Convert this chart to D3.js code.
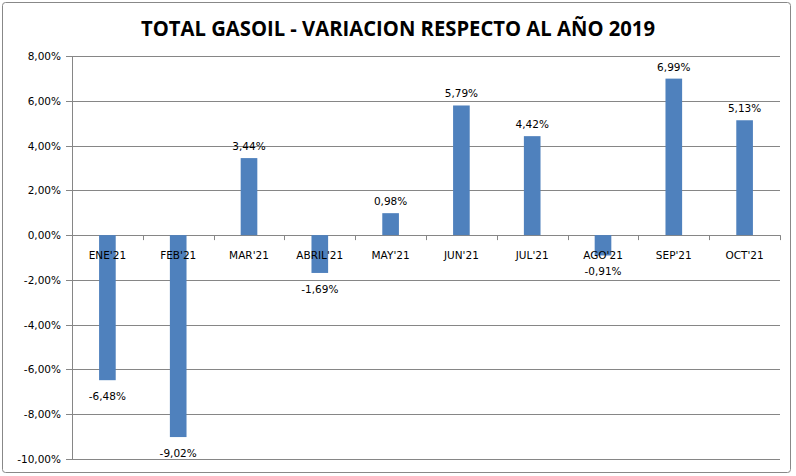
<!DOCTYPE html>
<html>
<head>
<meta charset="utf-8">
<script src="https://cdn.jsdelivr.net/npm/d3@7"></script>
<style>
  body { margin: 0; background: #fff; }
  text { font-family: "DejaVu Sans", Verdana, sans-serif; }
</style>
</head>
<body>
<div id="chart"></div>
<script>
// data
const months = ["ENE'21", "FEB'21", "MAR'21", "ABRIL'21", "MAY'21", "JUN'21", "JUL'21", "AGO'21", "SEP'21", "OCT'21"];
const variation = [-6.48, -9.02, 3.44, -1.69, 0.98, 5.79, 4.42, -0.91, 6.99, 5.13];
const yTicks = [8, 6, 4, 2, 0, -2, -4, -6, -8, -10];

const width = 796;
const height = 476;
const margin = {left: 72, right: 16, top: 56, bottom: 17};

const fmt = v => v.toFixed(2).replace(".", ",") + "%";

let svg = d3.select("#chart").append("svg")
    .attr("width", width)
    .attr("height", height);

// outer frame
svg.append("rect")
    .attr("x", 2.5).attr("y", 2.5)
    .attr("width", 788).attr("height", 470)
    .attr("rx", 3)
    .attr("fill", "#fff")
    .attr("stroke", "#888")
    .attr("stroke-width", 1);

svg.append("text")
    .attr("x", 398)
    .attr("y", 36)
    .attr("text-anchor", "middle")
    .attr("font-size", 22)
    .attr("font-weight", "bold")
    .attr("textLength", 514)
    .attr("lengthAdjust", "spacingAndGlyphs")
    .style("font-family", "'Open Sans', sans-serif")
    .text("TOTAL GASOIL - VARIACION RESPECTO AL AÑO 2019");

let x = d3.scaleBand()
    .domain(months)
    .range([margin.left, width - margin.right])
    .paddingInner(0.765)
    .paddingOuter(0.3825);

let y = d3.scaleLinear()
    .domain([-10, 8])
    .range([height - margin.bottom, margin.top]);

// gridlines
svg.append("g")
    .selectAll("line")
    .data(yTicks)
    .join("line")
    .attr("x1", margin.left - 6)
    .attr("x2", width - margin.right)
    .attr("y1", d => Math.round(y(d)) + 0.5)
    .attr("y2", d => Math.round(y(d)) + 0.5)
    .attr("stroke", "#868686");

// y labels
svg.append("g")
    .selectAll("text")
    .data(yTicks)
    .join("text")
    .attr("x", margin.left - 11)
    .attr("y", d => y(d) + 4)
    .attr("text-anchor", "end")
    .attr("font-size", 10.5)
    .attr("fill", "#000")
    .text(d => fmt(d));

// y axis line
svg.append("line")
    .attr("x1", margin.left + 0.5).attr("x2", margin.left + 0.5)
    .attr("y1", y(8)).attr("y2", y(-10))
    .attr("stroke", "#868686");

// bars
svg.append("g")
    .selectAll("rect")
    .data(variation)
    .join("rect")
    .attr("x", (d, i) => x(months[i]))
    .attr("width", x.bandwidth())
    .attr("y", d => y(Math.max(0, d)))
    .attr("height", d => Math.abs(y(d) - y(0)))
    .attr("fill", "#4F81BD");

// category ticks on zero line
let step = x.step();
svg.append("g")
    .selectAll("line")
    .data(d3.range(months.length + 1))
    .join("line")
    .attr("x1", i => Math.round(margin.left + i * (width - margin.left - margin.right) / months.length) + 0.5)
    .attr("x2", i => Math.round(margin.left + i * (width - margin.left - margin.right) / months.length) + 0.5)
    .attr("y1", y(0))
    .attr("y2", y(0) + 5)
    .attr("stroke", "#868686");

// category labels
svg.append("g")
    .selectAll("text")
    .data(months)
    .join("text")
    .attr("x", d => x(d) + x.bandwidth() / 2)
    .attr("y", y(0) + 24)
    .attr("text-anchor", "middle")
    .attr("font-size", 10.5)
    .text(d => d);

// value labels
svg.append("g")
    .selectAll("text")
    .data(variation)
    .join("text")
    .attr("x", (d, i) => x(months[i]) + x.bandwidth() / 2)
    .attr("y", d => d >= 0 ? y(d) - 8 : y(d) + 20)
    .attr("text-anchor", "middle")
    .attr("font-size", 10.5)
    .text(d => fmt(d));
</script>
</body>
</html>
